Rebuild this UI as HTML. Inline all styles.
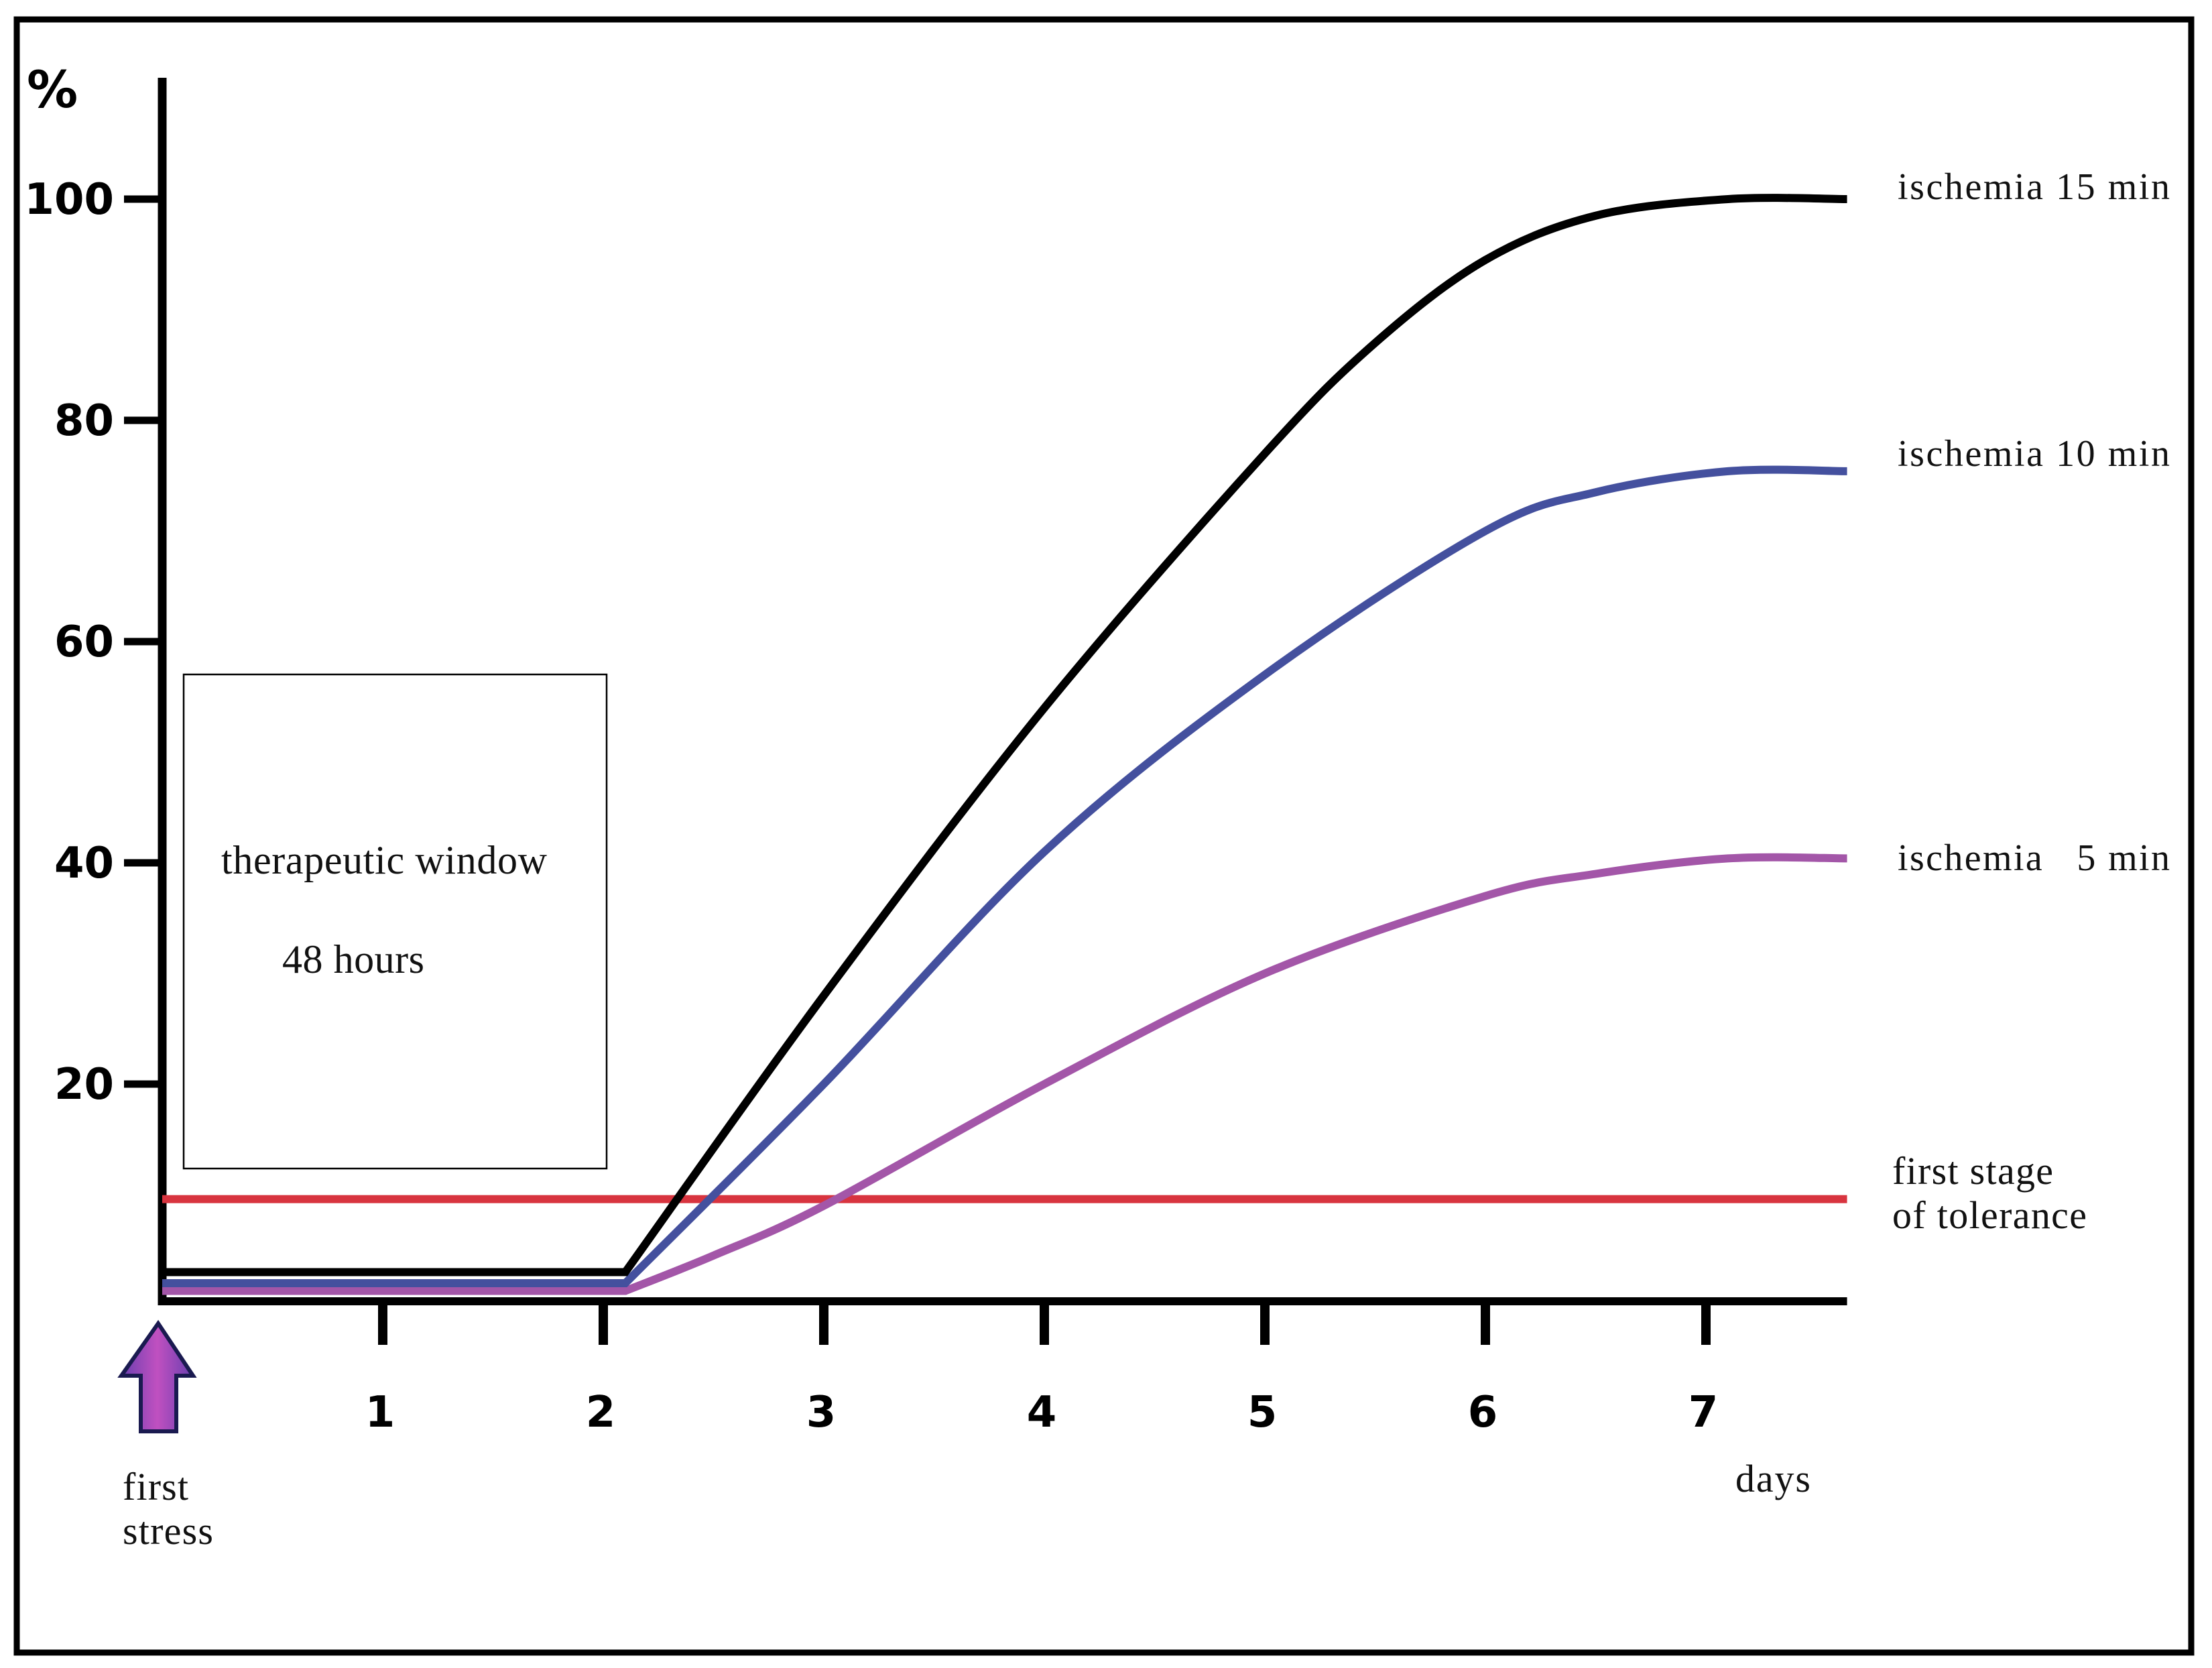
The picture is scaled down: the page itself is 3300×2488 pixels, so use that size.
<!DOCTYPE html>
<html><head><meta charset="utf-8"><style>
html,body{margin:0;padding:0;background:#fff;}
svg{display:block;}
.serif{font-family:"Liberation Serif",serif;fill:#111;}
.bold{font-family:"DejaVu Sans","Liberation Sans",sans-serif;font-weight:bold;fill:#000;}
</style></head><body>
<svg id="chart" width="3300" height="2488" viewBox="0 0 3300 2488" xmlns="http://www.w3.org/2000/svg">
<defs>
<linearGradient id="ag" x1="0" x2="1" y1="0" y2="0"><stop offset="0" stop-color="#6a3fb0"/><stop offset="0.5" stop-color="#c050c0"/><stop offset="1" stop-color="#6a3fb0"/></linearGradient>
</defs>
<rect x="25" y="29" width="3244" height="2436" fill="none" stroke="#000" stroke-width="9"/>
<g id="axes"></g>
<g id="series"></g>
<rect x="274" y="1006" width="631" height="737" fill="none" stroke="#000" stroke-width="2.5"/>
<text class="serif" x="330" y="1303" font-size="60" textLength="486">therapeutic window</text>
<text class="serif" x="421" y="1451" font-size="60" textLength="212">48 hours</text>
<text class="bold" x="40" y="160" font-size="76">%</text>
<text class="serif" x="2831" y="297" font-size="56" textLength="406">ischemia 15 min</text>
<text class="serif" x="2831" y="695" font-size="56" textLength="406">ischemia 10 min</text>
<text class="serif" x="2831" y="1298" font-size="56" textLength="406" xml:space="preserve">ischemia   5 min</text>
<text class="serif" x="2823" y="1766" font-size="58" textLength="240">first stage</text>
<text class="serif" x="2823" y="1832" font-size="58" textLength="290">of tolerance</text>
<text class="serif" x="2589" y="2225" font-size="58" textLength="112">days</text>
<text class="serif" x="183" y="2237" font-size="58" textLength="98">first</text>
<text class="serif" x="183" y="2303" font-size="58" textLength="135">stress</text>
<path d="M236 1974 L288 2052 L263 2052 L263 2135 L210 2135 L210 2052 L181 2052 Z" fill="url(#ag)" stroke="#1a1a50" stroke-width="6" stroke-linejoin="miter"/>
</svg>
<script>
const yTicks = [20, 40, 60, 80, 100];
const xTicks = [1, 2, 3, 4, 5, 6, 7];
const blackDays = [0, 2.1, 3, 4, 5, 5.5, 6, 6.5, 7.1, 7.64];
const blackVals = [3, 3, 28, 54, 77, 87, 94.5, 98.5, 100, 100];
const blueDays = [0, 2.1, 3, 4, 5, 6, 6.5, 7.1, 7.64];
const blueVals = [2, 2, 20, 41, 57, 70, 73.5, 75.4, 75.4];
const purpleDays = [0, 2.1, 2.5, 3, 4, 5, 6, 6.5, 7.1, 7.64];
const purpleVals = [1.3, 1.3, 4.5, 9, 20, 30, 37, 39, 40.4, 40.4];
const toleranceVal = [9.6];
const NS = "http://www.w3.org/2000/svg";
const X0 = 242, XS = 329, Y0 = 1947, YS = 16.5, XEND = 7.64;
function xs(d){ return X0 + d * XS; }
function ys(v){ return Y0 - v * YS; }
function mk(tag, attrs, parent){
  const e = document.createElementNS(NS, tag);
  for (const k in attrs) e.setAttribute(k, attrs[k]);
  parent.appendChild(e);
  return e;
}
const axes = document.getElementById('axes');
const series = document.getElementById('series');
let e;
e = mk('line', {x1: X0, y1: 116, x2: X0, y2: 1947, stroke: '#000', 'stroke-width': 13}, axes);


e = mk('line', {x1: X0 - 6, y1: 1941, x2: xs(XEND), y2: 1941, stroke: '#000', 'stroke-width': 12}, axes);


yTicks.forEach(v => {
  let t = mk('line', {x1: 185, y1: ys(v), x2: X0, y2: ys(v), stroke: '#000', 'stroke-width': 11}, axes);
  
  
  let l = mk('text', {x: 170, y: ys(v) + 22, 'text-anchor': 'end', 'font-size': 64, class: 'bold'}, axes);
  l.textContent = v;
  
  
});
xTicks.forEach(d => {
  let t = mk('line', {x1: xs(d), y1: 1941, x2: xs(d), y2: 2006, stroke: '#000', 'stroke-width': 14}, axes);
  
  
  let l = mk('text', {x: xs(d) - 4, y: 2128, 'text-anchor': 'middle', 'font-size': 64, class: 'bold'}, axes);
  l.textContent = d;
  
  
});
e = mk('line', {x1: X0, y1: ys(toleranceVal[0]), x2: xs(XEND), y2: ys(toleranceVal[0]), stroke: '#d8343f', 'stroke-width': 12}, series);


function smoothPath(ds, vs){
  const p = ds.map((d, i) => [xs(d), ys(vs[i])]);
  let s = 'M' + p[0][0] + ' ' + p[0][1] + ' L' + p[1][0] + ' ' + p[1][1];
  for (let i = 1; i < p.length - 1; i++){
    const p0 = p[i - 1 < 1 ? 1 : i - 1], p1 = p[i], p2 = p[i + 1], p3 = p[i + 2] || p2;
    const c1 = [p1[0] + (p2[0] - p0[0]) / 6, p1[1] + (p2[1] - p0[1]) / 6];
    const c2 = [p2[0] - (p3[0] - p1[0]) / 6, p2[1] - (p3[1] - p1[1]) / 6];
    s += ' C' + c1[0] + ' ' + c1[1] + ' ' + c2[0] + ' ' + c2[1] + ' ' + p2[0] + ' ' + p2[1];
  }
  return s;
}
e = mk('path', {d: smoothPath(purpleDays, purpleVals), fill: 'none', stroke: '#a356a8', 'stroke-width': 12}, series);


e = mk('path', {d: smoothPath(blueDays, blueVals), fill: 'none', stroke: '#44509e', 'stroke-width': 12}, series);


e = mk('path', {d: smoothPath(blackDays, blackVals), fill: 'none', stroke: '#000', 'stroke-width': 12}, series);


</script>
</body></html>
